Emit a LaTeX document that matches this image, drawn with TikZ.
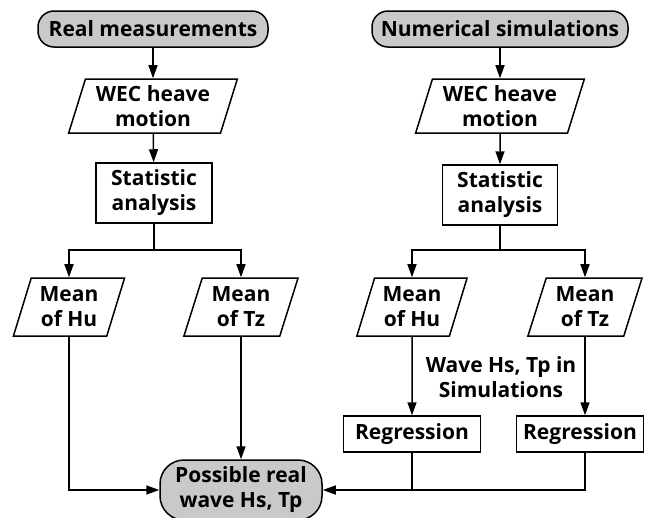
\documentclass[tikz,border=0pt]{standalone}
\usepackage{fontspec}
\setmainfont{Open Sans}
\usetikzlibrary{shapes.geometric,arrows.meta}

\begin{document}
\begin{tikzpicture}[x=1pt, y=-1pt, line width=1.5pt,
    >={Triangle[length=13pt,width=9pt]},
    every node/.style={font=\bfseries\fontsize{21}{25}\selectfont, align=center, inner sep=0pt},
    termbox/.style={draw, fill=black!21, rounded corners=16pt},
    databox/.style={draw, trapezium, trapezium left angle=71, trapezium right angle=109,
        trapezium stretches=true},
    procbox/.style={draw, minimum height=36pt}]
    \clip (0,0) rectangle (656,517);

    % left: real measurements
    \node[termbox, minimum width=230pt, minimum height=36pt]
        (realm) at (153,29) {Real measurements};
    \node[databox, minimum width=169pt, minimum height=54pt]
        (wec1) at (153,106) {WEC heave\\motion};
    \node[procbox, minimum width=116pt, minimum height=60pt]
        (stat1) at (154,193) {Statistic\\analysis};
    \coordinate (bar1) at (154,250);
    \node[databox, minimum width=112pt, minimum height=58pt]
        (hu1) at (69,307) {Mean\\of Hu};
    \node[databox, minimum width=115pt, minimum height=58pt]
        (tz1) at (241,307) {Mean\\of Tz};

    % right: numerical simulations
    \node[termbox, minimum width=256pt, minimum height=36pt]
        (numsim) at (500,29) {Numerical simulations};
    \node[databox, minimum width=169pt, minimum height=54pt]
        (wec2) at (500,106) {WEC heave\\motion};
    \node[procbox, minimum width=115pt, minimum height=60pt]
        (stat2) at (500,195) {Statistic\\analysis};
    \coordinate (bar2) at (500,250);
    \node[databox, minimum width=111pt, minimum height=58pt]
        (hu2) at (412,307) {Mean\\of Hu};
    \node[databox, minimum width=115pt, minimum height=58pt]
        (tz2) at (585,307) {Mean\\of Tz};
    \node (simlabel) at (501,377) {Wave Hs, Tp in\\Simulations};
    \node[procbox, minimum width=137pt]
        (reg1) at (412,434) {Regression};
    \node[procbox, minimum width=127pt]
        (reg2) at (580,434) {Regression};

    % result
    \node[termbox, rounded corners=24pt, minimum width=162pt, minimum height=60pt]
        (poss) at (241,490) {Possible real\\wave Hs, Tp};

    \draw[->] (realm) -- (wec1);
    \draw[->] (wec1) -- (stat1);
    \draw (stat1) -- (bar1);
    \draw[->] (bar1) -| (hu1);
    \draw[->] (bar1) -| (tz1);

    \draw[->] (numsim) -- (wec2);
    \draw[->] (wec2) -- (stat2);
    \draw (stat2) -- (bar2);
    \draw[->] (bar2) -| (hu2);
    \draw[->] (bar2) -| (tz2);
    \draw[->] (hu2) -- (reg1);
    \draw[->] (tz2.south) -- (tz2.south |- reg2.north);

    \draw[->] (hu1) |- (poss);
    \draw[->] (tz1.south) -- (tz1.south |- poss.north);
    \draw (reg1.south) -- (reg1.south |- poss.east);
    \draw[->] (tz2.south |- reg2.south) |- (poss.east);
\end{tikzpicture}
\end{document}
